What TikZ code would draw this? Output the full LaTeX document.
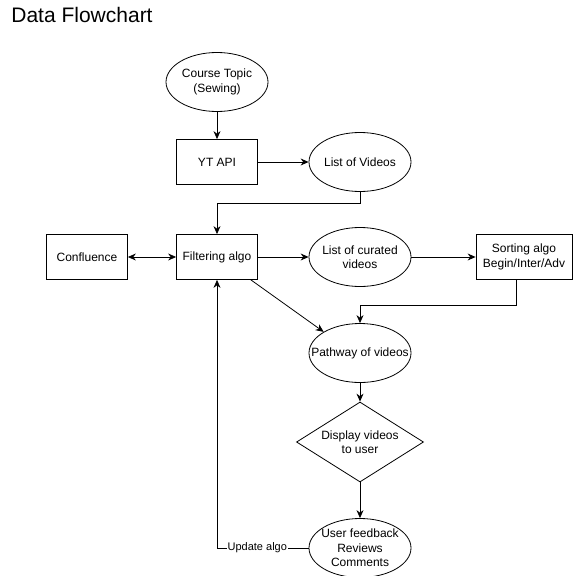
\documentclass[tikz,border=0pt]{standalone}
\usepackage{fontspec}
\setmainfont{Liberation Sans}
\usetikzlibrary{shapes.geometric, arrows, arrows.meta, calc}
\tikzstyle{oval} = [ellipse, 
minimum width=102pt, 
minimum height=59pt, 
inner xsep=-15pt, % keeps long lines from widening the oval
inner ysep=0pt, 
align=center, 
draw=black]
\tikzstyle{process} = [rectangle, 
minimum width=81pt, 
minimum height=45pt, 
align=center, 
draw=black]
\tikzstyle{process_wide} = [process, 
minimum width=96pt, 
inner xsep=3pt]
\tikzstyle{decision} = [diamond, 
aspect=1.6, 
minimum width=127pt, 
minimum height=80pt, 
inner sep=0pt, 
align=center, 
draw=black]
\tikzstyle{arrow} = [->,>={Stealth[length=8pt,width=7pt]}]
\begin{document}
\begin{tikzpicture}[node distance=80pt, line width=0.8pt, font=\fontsize{12}{14.5}\selectfont]
\useasboundingbox (0,0) rectangle (577pt,-575pt);

\node (title) [anchor=base west, inner sep=0pt, font=\fontsize{21}{25}\selectfont] at (11pt,-23pt) {Data Flowchart};

\node (topic) [oval] at (217pt,-82pt) {Course Topic\\(Sewing)};
\node (api) [process, below of=topic] {YT API};
\node (vids) [oval, right of=api, xshift=63pt] {List of Videos};

% Middelste rij
\node (filt) [process, below of=api, yshift=-15pt] {Filtering algo};
\node (conf) [process, left of=filt, xshift=-50pt] {Confluence};
\node (cur) [oval, right of=filt, xshift=63pt] {List of curated\\videos};
\node (sort) [process_wide, right of=cur, xshift=84pt] {Sorting algo\\Begin/Inter/Adv};

\node (path) [oval, below of=cur, yshift=-16pt] {Pathway of videos};
\node (disp) [decision, below of=path, yshift=-9pt] {Display videos\\to user};
\node (fb) [oval, inner ysep=-3pt, below of=disp, yshift=-26pt] {User feedback\\Reviews\\Comments};

\draw [arrow] (topic) -- (api);
\draw [arrow] (api) -- (vids);
\draw [arrow] (vids.south) -- ++(0,-11pt) -| (filt.north);
\draw [arrow, <->] (conf) -- (filt);
\draw [arrow] (filt) -- (cur);
\draw [arrow] (cur) -- (sort);
\draw [arrow] ($(sort.south)+(-8pt,0)$) -- ++(0,-25pt) -| (path.north);
\draw [arrow] ($(filt.south east)+(-7pt,0)$) -- (path.north west);
\draw [arrow] (path) -- (disp);
\draw [arrow] (disp) -- (fb);

% Terugkoppeling
\draw [arrow] (fb.west) -| node[pos=0.28, fill=white, inner sep=1pt, font=\fontsize{11}{13}\selectfont] {Update algo} (filt.south);

\end{tikzpicture}
\end{document}
